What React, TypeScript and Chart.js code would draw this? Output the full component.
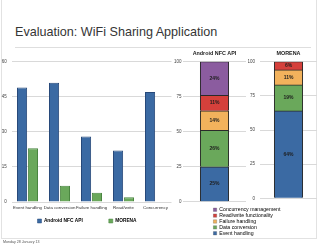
import React, { useEffect, useRef } from "react";
import { Chart, registerables } from "chart.js";

Chart.register(...registerables);

const FONT = "'Liberation Sans', Arial, Helvetica, sans-serif";
Chart.defaults.font.family = FONT;

// ---- data: left grouped chart ----
const categories = ["Event handling", "Data conversion", "Failure handling", "Read/write", "Concurrency"];
const seriesNames = ["Android NFC API", "MORENA"];
const androidCounts = [49, 51, 28, 22, 47];
const morenaCounts = [23, 7, 4, 2, 0];
const countTicks = [0, 15, 30, 45, 60];

// ---- data: right stacked charts ----
const concernNames = [
  "Event handling",
  "Data conversion",
  "Failure handling",
  "Read/write functionality",
  "Concurrency management",
];
const androidShare = [25, 26, 14, 11, 24];
const morenaShare = [64, 19, 11, 6, 0];
const shareTicks = [0, 25, 50, 75, 100];

// ---- styles ----
const BLUE = "#3b6aa3";
const BLUE_B = "#27497a";
const GREEN = "#6aa85b";
const GREEN_B = "#4a8540";
const ORANGE = "#f2b25c";
const RED = "#d5403b";
const PURPLE = "#8b5c9f";
const seriesColors = [BLUE, GREEN];
const seriesBorders = [BLUE_B, GREEN_B];
const concernColors = [BLUE, GREEN, ORANGE, RED, PURPLE];
const GRID = "#d9d9d9";

const percentLabels = {
  id: "percentLabels",
  afterDatasetsDraw(chart: any) {
    const ctx = chart.ctx;
    ctx.save();
    ctx.font = `bold 5px ${FONT}`;
    ctx.fillStyle = "#1e1e1e";
    ctx.textAlign = "center";
    ctx.textBaseline = "middle";
    chart.data.datasets.forEach((ds: any, i: number) => {
      const meta = chart.getDatasetMeta(i);
      meta.data.forEach((el: any, j: number) => {
        const v = ds.data[j];
        if (!v) return;
        const p = el.getCenterPoint();
        ctx.fillText(`${v}%`, p.x, p.y);
      });
    });
    ctx.restore();
  },
};

function ChartCanvas(props: { left: number; top: number; width: number; height: number; make: () => any }) {
  const ref = useRef<HTMLCanvasElement>(null);
  useEffect(() => {
    const chart = new Chart(ref.current as HTMLCanvasElement, props.make());
    return () => chart.destroy();
  }, []);
  return (
    <canvas
      ref={ref}
      width={props.width}
      height={props.height}
      style={{ position: "absolute", left: props.left, top: props.top, width: props.width, height: props.height }}
    />
  );
}

const leftChart = () => ({
  type: "bar",
  data: {
    labels: categories,
    datasets: [androidCounts, morenaCounts].map((d, i) => ({
      label: seriesNames[i],
      data: d,
      backgroundColor: seriesColors[i],
      borderColor: seriesBorders[i],
      borderWidth: 1,
      categoryPercentage: 0.68,
      barPercentage: 0.93,
    })),
  },
  options: {
    responsive: false,
    animation: false,
    layout: { padding: { top: 61.7, right: 3.5, bottom: 0, left: 0 } },
    plugins: { legend: { display: false }, tooltip: { enabled: false } },
    scales: {
      x: {
        grid: { display: false, drawTicks: false },
        border: { display: false },
        ticks: { font: { size: 4.4 }, color: "#333", padding: 2.7, maxRotation: 0, autoSkip: false },
        afterFit: (s: any) => {
          s.height = 12;
        },
      },
      y: {
        min: countTicks[0],
        max: countTicks[countTicks.length - 1],
        ticks: { stepSize: countTicks[1] - countTicks[0], font: { size: 4.5 }, color: "#444", padding: 4.8 },
        grid: { color: GRID, drawTicks: false },
        border: { display: false },
        afterFit: (s: any) => {
          s.width = 11.5;
        },
      },
    },
  },
});

const stackChart = (name: string, values: number[], yWidth: number, tickPad: number, padRight: number) => () => ({
  type: "bar",
  data: {
    labels: [name],
    datasets: concernNames.map((n, i) => ({
      label: n,
      data: [values[i]],
      backgroundColor: concernColors[i],
      borderColor: "#2a2a2a",
      borderWidth: 1,
      barThickness: 28.5,
    })),
  },
  options: {
    responsive: false,
    animation: false,
    layout: { padding: { top: 41.7, right: padRight, bottom: 4, left: 0 } },
    plugins: { legend: { display: false }, tooltip: { enabled: false } },
    scales: {
      x: {
        position: "top",
        stacked: true,
        grid: { display: false, drawTicks: false },
        border: { display: false },
        ticks: { font: { size: 5.4, weight: "bold" }, color: "#222", padding: 4.5, maxRotation: 0 },
        afterFit: (s: any) => {
          s.height = 20;
        },
      },
      y: {
        stacked: true,
        min: shareTicks[0],
        max: shareTicks[shareTicks.length - 1],
        ticks: { stepSize: shareTicks[1] - shareTicks[0], font: { size: 4.5 }, color: "#444", padding: tickPad },
        grid: { color: GRID, drawTicks: false },
        border: { display: false },
        afterFit: (s: any) => {
          s.width = yWidth;
        },
      },
    },
  },
  plugins: [percentLabels],
});

const seriesLegend = () => ({
  type: "bar",
  data: { labels: [], datasets: [] },
  options: {
    responsive: false,
    animation: false,
    layout: { padding: { top: 0.6 } },
    scales: { x: { display: false }, y: { display: false } },
    plugins: {
      tooltip: { enabled: false },
      legend: {
        display: true,
        position: "top",
        align: "center",
        labels: {
          boxWidth: 4,
          boxHeight: 4,
          padding: 26,
          color: "#222",
          font: { size: 4.8, weight: "bold" },
          generateLabels: () =>
            seriesNames.map((t, i) => ({
              text: t,
              fillStyle: seriesColors[i],
              strokeStyle: seriesBorders[i],
              lineWidth: 0.5,
              hidden: false,
              datasetIndex: i,
            })),
        },
      },
    },
  },
});

const concernLegend = () => ({
  type: "bar",
  data: { labels: [], datasets: [] },
  options: {
    responsive: false,
    animation: false,
    layout: { padding: { top: 0.4, left: 0.6 } },
    scales: { x: { display: false }, y: { display: false } },
    plugins: {
      tooltip: { enabled: false },
      legend: {
        display: true,
        position: "left",
        align: "start",
        labels: {
          boxWidth: 3.4,
          boxHeight: 3.4,
          padding: 0.7,
          color: "#333",
          font: { size: 5.2 },
          generateLabels: () =>
            concernNames
              .map((t, i) => ({
                text: t,
                fillStyle: concernColors[i],
                strokeStyle: "#555",
                lineWidth: 0.3,
                hidden: false,
                datasetIndex: i,
              }))
              .reverse(),
        },
      },
    },
  },
});

export default function App() {
  return (
    <div
      style={{
        position: "absolute",
        left: 0,
        top: 0,
        width: 320,
        height: 246,
        background: "#fff",
        overflow: "hidden",
        fontFamily: FONT,
      }}
    >
      <div
        style={{
          position: "absolute",
          left: 1,
          top: -1,
          width: 316,
          height: 240,
          border: "1px solid #e2e2e2",
          boxSizing: "border-box",
        }}
      />
      <div
        style={{
          position: "absolute",
          left: 15,
          top: 25.4,
          fontSize: 12.6,
          lineHeight: "15px",
          color: "#353535",
          whiteSpace: "nowrap",
        }}
      >
        Evaluation: WiFi Sharing Application
      </div>
      <div style={{ position: "absolute", left: 15, top: 47, width: 296, height: 1, background: "#dedede" }} />
      <ChartCanvas left={0} top={0} width={175} height={214} make={leftChart} />
      <ChartCanvas left={172} top={0} width={76} height={206} make={stackChart(seriesNames[0], androidShare, 11, 1.5, 2)} />
      <ChartCanvas left={248} top={0} width={72} height={206} make={stackChart(seriesNames[1], morenaShare, 12, 5, 3)} />
      <ChartCanvas left={0} top={192} width={174} height={80} make={seriesLegend} />
      <ChartCanvas left={212} top={206} width={190} height={36} make={concernLegend} />
      <div
        style={{
          position: "absolute",
          left: 3,
          top: 239.7,
          fontSize: 3.6,
          lineHeight: "4px",
          color: "#555",
          whiteSpace: "nowrap",
        }}
      >
        Monday 28 January 13
      </div>
    </div>
  );
}
